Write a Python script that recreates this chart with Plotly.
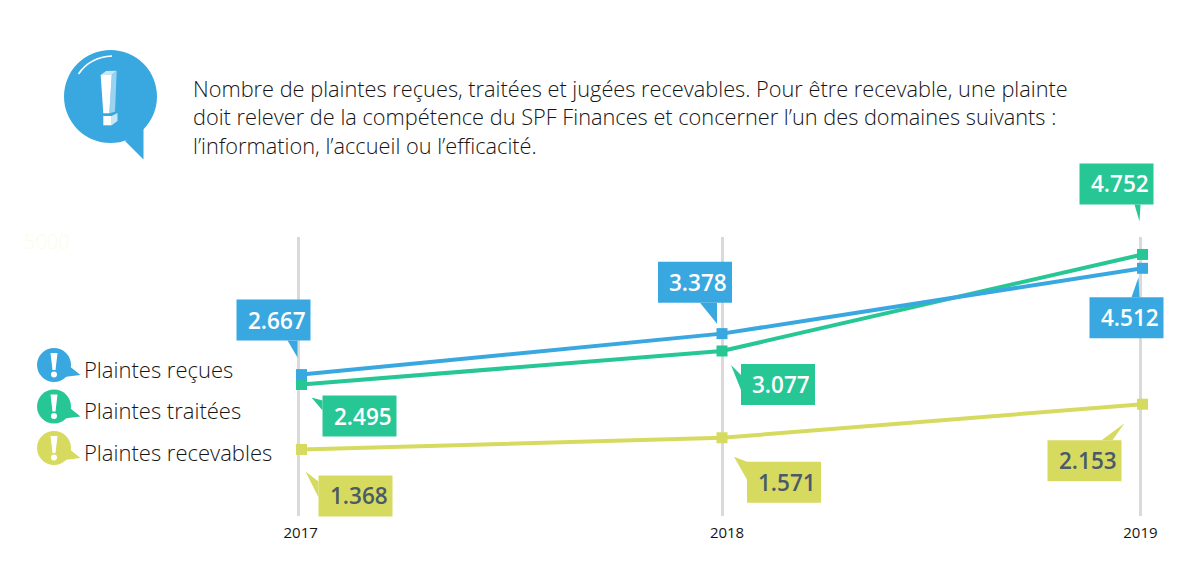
import plotly.graph_objects as go

# ---- data ----
years = [2017, 2018, 2019]
grid_positions = [2016.993, 2018, 2018.995]
tick_positions = [2016.998, 2018.012, 2018.995]
tick_labels = ["2017", "2018", "2019"]
plaintes_recues = [2667, 3378, 4512]
plaintes_traitees = [2495, 3077, 4752]
plaintes_recevables = [1368, 1571, 2153]
label_recues = ["2.667", "3.378", "4.512"]
label_traitees = ["2.495", "3.077", "4.752"]
label_recevables = ["1.368", "1.571", "2.153"]
series_names = ["Plaintes reçues", "Plaintes traitées", "Plaintes recevables"]
title_lines = [
    "Nombre de plaintes reçues, traitées et jugées recevables. Pour être recevable, une plainte",
    "doit relever de la compétence du SPF Finances et concerner l’un des domaines suivants :",
    "l’information, l’accueil ou l’efficacité.",
]

# ---- style / layout ----
W, H = 1201, 577
L, R, T, B = 200, 1190, 237, 516
BLUE, GREEN, YELLOW = "#3AA8E0", "#26C795", "#D6DB5F"
DARK = "#151515"
SLATE = "#4A5A6A"
LIGHT = "Open Sans"
PX_PER_YEAR = 420.5
PX_PER_UNIT = 0.05762
Y_TOP = 5055
X_MIN = 2018 + (L - 722) / PX_PER_YEAR
X_MAX = 2018 + (R - 722) / PX_PER_YEAR
Y_MIN = Y_TOP - (B - T) / PX_PER_UNIT


def fx(px):
    return (px - L) / (R - L)


def fy(py):
    return (B - py) / (B - T)


def data_fx(year):
    return (year - X_MIN) / (X_MAX - X_MIN)


def data_fy(value):
    return (value - Y_MIN) / (Y_TOP - Y_MIN)


def poly(points):
    return "M " + " L ".join(f"{fx(x):.5f},{fy(y):.5f}" for x, y in points) + " Z"


shapes, annos = [], []


def add_poly(points, color):
    shapes.append(dict(type="path", xref="paper", yref="paper", path=poly(points),
                       fillcolor=color, line=dict(width=0), layer="above"))


def add_circle(cx, cy, r, color):
    shapes.append(dict(type="circle", xref="paper", yref="paper",
                       x0=fx(cx - r), x1=fx(cx + r), y0=fy(cy + r), y1=fy(cy - r),
                       fillcolor=color, line=dict(width=0), layer="above"))


def callout(year, value, text, color, tcolor, rect, tail):
    dx, dy = rect
    w, h = 74, 41
    pts = [(dx, dy), (dx + w, dy), (dx + w, dy + h), (dx, dy + h)]
    ax, ay = data_fx(year), data_fy(value)
    for pts_ in (pts, tail):
        path = "M " + " L ".join(f"{x},{-y}" for x, y in pts_) + " Z"
        shapes.append(dict(type="path", xref="paper", yref="paper", xsizemode="pixel", ysizemode="pixel",
                           xanchor=ax, yanchor=ay, path=path, fillcolor=color,
                           line=dict(width=0), layer="above"))
    annos.append(dict(xref="paper", yref="paper", x=ax, y=ay, xshift=dx + w / 2 + 3, yshift=-(dy + h / 2),
                      text=text, showarrow=False, xanchor="center", yanchor="middle",
                      font=dict(family=LIGHT, size=22.5, color=tcolor, weight=600)))


fig = go.Figure()
for vals, color, name in [
    (plaintes_recevables, YELLOW, series_names[2]),
    (plaintes_traitees, GREEN, series_names[1]),
    (plaintes_recues, BLUE, series_names[0]),
]:
    fig.add_trace(go.Scatter(x=years, y=vals, mode="lines+markers", name=name, showlegend=False,
                             line=dict(color=color, width=4),
                             marker=dict(symbol="square", size=11, color=color)))

# callouts
callout(2017, plaintes_recues[0], label_recues[0], BLUE, "white", (-65, -75), [(-14, -34), (-4, -17), (-4, -34)])
callout(2018, plaintes_recues[1], label_recues[1], BLUE, "white", (-64, -72), [(-22, -31), (-5, -10), (-5, -31)])
callout(2019, plaintes_recues[2], label_recues[2], BLUE, "white", (-53, 29), [(-11, 29), (-4, 9), (-3, 29)])
callout(2017, plaintes_traitees[0], label_traitees[0], GREEN, "white", (21, 11), [(21, 16), (10, 13), (21, 26)])
callout(2018, plaintes_traitees[1], label_traitees[1], GREEN, "white", (19, 13), [(19, 24), (9, 14), (19, 39)])
callout(2019, plaintes_traitees[2], label_traitees[2], GREEN, "white", (-63, -91), [(-8, -50), (-3, -33), (-2, -50)])
callout(2017, plaintes_recevables[0], label_recevables[0], YELLOW, SLATE, (17, 26), [(17, 32), (4, 22), (17, 48)])
callout(2018, plaintes_recevables[1], label_recevables[1], YELLOW, SLATE, (25, 24), [(25, 24), (12, 19), (25, 42)])
callout(2019, plaintes_recevables[2], label_recevables[2], YELLOW, SLATE, (-95, 36), [(-41, 36), (-18, 19), (-30, 36)])

# big speech bubble
add_circle(110.5, 96.5, 46.5, BLUE)
add_poly([(125, 141), (143.5, 159.5), (143.5, 128)], BLUE)
add_poly([(100.7, 75), (106, 71), (116.7, 70.7), (111.7, 75)], "#C9E6F6")
add_poly([(111.7, 75), (116.7, 70.7), (115, 111.7), (109.3, 113.3)], "#9BD2EF")
add_poly([(100.7, 75), (111.7, 75), (109.3, 113.3), (103.3, 113.3)], "white")
add_poly([(103.3, 116), (111.7, 116), (111.7, 125.3), (103.3, 125.3)], "white")
add_poly([(111.7, 116), (117.5, 113), (117.5, 121), (111.7, 125.3)], "#C9E6F6")
shapes.append(dict(type="path", xref="paper", yref="paper", layer="above",
                   path=f"M {fx(78.5):.5f},{fy(74):.5f} Q {fx(90):.5f},{fy(57):.5f} {fx(112):.5f},{fy(56):.5f}",
                   line=dict(color="white", width=1.6)))

# legend bubbles
for name, color, cy in zip(series_names, [BLUE, GREEN, YELLOW], [365, 406.5, 448]):
    add_circle(54, cy, 17, color)
    add_poly([(64, cy + 12), (80.5, cy + 10), (68, cy - 0)], color)
    add_poly([(50.5, cy - 12), (57.5, cy - 12), (55.5, cy + 5), (52.5, cy + 5)], "white")
    add_circle(54, cy + 9.5, 3, "white")
    annos.append(dict(xref="paper", yref="paper", x=fx(82), y=fy(cy + 3.5), text=name, showarrow=False,
                      xanchor="left", yanchor="middle",
                      font=dict(family=LIGHT, size=22, color=DARK, weight=300)))

# heading
for line, py in zip(title_lines, [88, 117, 146]):
    annos.append(dict(xref="paper", yref="paper", x=fx(191), y=fy(py), text=line, showarrow=False,
                      xanchor="left", yanchor="middle",
                      font=dict(family=LIGHT, size=21.75, color=DARK, weight=300)))

# faint leftover axis label
annos.append(dict(xref="paper", yref="paper", x=fx(22), y=fy(241), text="5000", showarrow=False,
                  xanchor="left", yanchor="middle",
                  font=dict(family=LIGHT, size=20, color="#FDFBEA", weight=300)))

fig.update_layout(
    width=W, height=H, autosize=False,
    margin=dict(l=L, r=W - R, t=T, b=H - B, pad=0),
    paper_bgcolor="white", plot_bgcolor="white",
    shapes=shapes, annotations=annos, showlegend=False,
    font=dict(family=LIGHT, color=DARK),
    xaxis=dict(range=[X_MIN, X_MAX],
               tickmode="array", tickvals=tick_positions, ticktext=tick_labels,
               showgrid=False, zeroline=False, showline=False,
               minor=dict(tickmode="array", tickvals=grid_positions, showgrid=True,
                          gridcolor="#DADADA", gridwidth=2.5, ticks=""),
               ticks="outside", ticklen=3, tickcolor="rgba(0,0,0,0)",
               tickfont=dict(family=LIGHT, size=15, color=DARK)),
    yaxis=dict(range=[Y_MIN, Y_TOP], showgrid=False, zeroline=False, showline=False,
               showticklabels=False, ticks=""),
)
fig.write_html("out.html", config=dict(displayModeBar=False),
               post_script="document.body.style.margin='0';document.body.style.overflow='hidden';")
